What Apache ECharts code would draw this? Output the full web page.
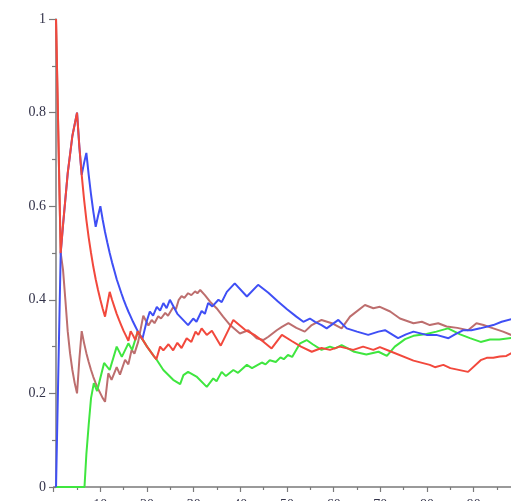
<!DOCTYPE html>
<html>
<head>
<meta charset="utf-8">
<script src="https://cdn.jsdelivr.net/npm/echarts@6.0.0/dist/echarts.min.js"></script>
<style>
  html, body { margin: 0; padding: 0; background: #ffffff; }
  #chart { width: 511px; height: 501px; }
</style>
</head>
<body>
<div id="chart"></div>
<script>
// Running proportions of four walks, as [x, proportion] vertices.
const redPts = [
  [0.5,1],[1.5,0.5],[2,0.56],[3,0.67],[4,0.75],[5,0.8],[5.5,0.727],[6,0.667],[6.5,0.615],[7,0.571],
  [7.5,0.533],[8,0.5],[8.5,0.47],[9,0.444],[9.5,0.421],[10,0.4],[10.5,0.381],[11,0.364],[11.5,0.391],
  [12,0.417],[12.5,0.4],[13,0.385],[13.5,0.37],[14,0.357],[14.5,0.345],[15,0.333],[15.5,0.323],
  [16,0.3125],[16.5,0.333],[17,0.324],[17.5,0.314],[18,0.333],[18.5,0.324],[19,0.316],[19.5,0.308],
  [20,0.3],[20.5,0.293],[21,0.286],[21.5,0.279],[22,0.273],[22.8,0.3],[23.5,0.292],[24.6,0.305],
  [25.6,0.292],[26.5,0.308],[27.4,0.297],[28.5,0.318],[29.5,0.31],[30.4,0.332],[31,0.325],[31.7,0.339],
  [32.8,0.325],[33.9,0.334],[35.8,0.302],[38.5,0.357],[41,0.336],[43,0.325],[45,0.31],[46.7,0.296],
  [48.9,0.325],[51,0.312],[53,0.3],[55.3,0.289],[57.4,0.297],[59.2,0.293],[61.3,0.3],[64.2,0.293],
  [66.3,0.3],[68.5,0.293],[69.9,0.299],[72.1,0.29],[77.1,0.27],[80.6,0.261],[81.7,0.256],[83.5,0.261],
  [85,0.254],[88.8,0.246],[91.5,0.271],[92.8,0.276],[94.2,0.276],[95.6,0.279],[97,0.28],[98.5,0.288]
];

const bluePts = [
  [0.5,0],[1.5,0.5],[2,0.56],[3,0.67],[4,0.75],[5,0.8],[5.5,0.727],[6,0.667],[6.5,0.692],[7,0.714],
  [7.5,0.667],[8,0.625],[8.5,0.588],[9,0.556],[9.5,0.579],[10,0.6],[10.5,0.571],[11,0.545],[11.5,0.522],
  [12,0.5],[12.5,0.48],[13,0.462],[13.5,0.444],[14,0.429],[14.5,0.414],[15,0.4],[15.5,0.387],[16,0.375],
  [16.5,0.364],[17,0.353],[17.5,0.343],[18,0.333],[18.5,0.324],[19,0.316],[19.9,0.353],[20.6,0.375],
  [21.3,0.366],[22.1,0.385],[22.8,0.377],[23.5,0.393],[24.2,0.382],[24.9,0.4],[26.5,0.37],[28.8,0.346],
  [29.9,0.36],[30.6,0.353],[31.7,0.376],[32.4,0.37],[33.1,0.393],[34,0.386],[35.3,0.4],[36,0.395],
  [37.1,0.417],[38.8,0.435],[41.4,0.407],[43.8,0.432],[46,0.415],[48,0.397],[50,0.38],[52,0.364],
  [53.5,0.353],[54.9,0.36],[56,0.353],[57.4,0.346],[58.5,0.339],[61,0.357],[62.8,0.339],[65,0.332],
  [67.4,0.325],[69.6,0.332],[71,0.335],[73.8,0.318],[75.5,0.326],[77.1,0.332],[79.9,0.325],[82,0.325],
  [84.6,0.318],[86,0.326],[87.8,0.335],[89.5,0.335],[91.4,0.339],[94.2,0.346],[96,0.353],[98.5,0.36]
];

const greenPts = [
  [0.5,0],[6.6,0],[7,0.07],[7.5,0.133],[8,0.19],[8.6,0.222],[9.3,0.205],[10.8,0.265],[12,0.25],
  [13.5,0.3],[14.6,0.278],[16,0.307],[16.8,0.293],[17.8,0.325],[18,0.333],[18.5,0.324],[19,0.316],
  [19.5,0.308],[20,0.3],[20.5,0.293],[21,0.286],[21.5,0.279],[22,0.273],[23.5,0.25],[25.6,0.229],
  [27.1,0.22],[27.8,0.239],[28.8,0.246],[30.6,0.236],[32.8,0.214],[34.2,0.232],[34.9,0.226],[36,0.246],
  [36.9,0.237],[38.5,0.25],[39.5,0.244],[41.4,0.261],[42.5,0.254],[44.6,0.266],[45.4,0.262],[46.3,0.271],
  [47.6,0.267],[48.6,0.277],[49.3,0.273],[50.2,0.282],[51.1,0.278],[52.8,0.307],[54.2,0.314],[55.5,0.305],
  [57.4,0.293],[59.2,0.3],[60.3,0.296],[61.7,0.303],[64.4,0.289],[67,0.283],[69.6,0.289],[71.4,0.28],
  [73.1,0.3],[75.3,0.316],[77.1,0.323],[79.9,0.327],[82,0.332],[84.5,0.339],[87.1,0.326],[89.2,0.318],
  [91.5,0.31],[93.5,0.315],[95.5,0.315],[98.5,0.319]
];

const brownPts = [
  [0.5,1],[1.5,0.5],[2,0.464],[2.5,0.4],[3,0.333],[3.5,0.286],[4,0.25],[4.5,0.222],[5,0.2],[5.5,0.273],
  [6,0.333],[6.5,0.308],[7,0.286],[7.5,0.267],[8,0.25],[8.5,0.235],[9,0.222],[9.5,0.21],[10,0.2],
  [10.5,0.19],[11,0.182],[11.7,0.243],[12.4,0.229],[13.5,0.256],[14.2,0.24],[15.3,0.272],[16,0.262],
  [16.7,0.293],[17.3,0.285],[18.1,0.31],[19.2,0.366],[20.3,0.345],[21,0.357],[21.6,0.35],[22.4,0.365],
  [23,0.36],[23.9,0.372],[24.5,0.366],[25.6,0.384],[26.2,0.38],[26.8,0.4],[27.4,0.408],[28,0.404],
  [28.8,0.414],[29.5,0.41],[30.3,0.418],[30.8,0.414],[31.4,0.421],[32.4,0.41],[33.5,0.396],[34.9,0.382],
  [36.3,0.364],[37.8,0.346],[39.9,0.328],[41.7,0.335],[43.5,0.318],[44.9,0.314],[46,0.321],[47.8,0.335],
  [48.9,0.342],[50.3,0.35],[52,0.34],[53.8,0.332],[55.3,0.346],[57.4,0.357],[59.6,0.35],[61.7,0.339],
  [63.5,0.364],[66.7,0.389],[68.5,0.382],[69.9,0.385],[72.1,0.375],[74.2,0.36],[77.1,0.35],[78.9,0.353],
  [80.6,0.346],[82.4,0.35],[84.2,0.343],[86.5,0.34],[88.8,0.335],[90.6,0.35],[92.1,0.346],[94.2,0.339],
  [96.3,0.332],[98.5,0.323]
];

const yTickValues = [0, 0.2, 0.4, 0.6, 0.8, 1];

const AXIS_COLOR = '#7a7a7a';
const TEXT_COLOR = '#33334a';
const FONT = '"Liberation Serif", "DejaVu Serif", serif';

const chart = echarts.init(document.getElementById('chart'), null, { renderer: 'canvas' });

function lineSeries(name, pts, color, z) {
  return {
    name: name,
    type: 'line',
    data: pts,
    showSymbol: false,
    symbol: 'none',
    smooth: false,
    z: z,
    lineStyle: { color: color, width: 2 },
    emphasis: { disabled: true }
  };
}

chart.setOption({
  animation: false,
  backgroundColor: '#ffffff',
  grid: {
    left: 53.7,
    top: 19,
    width: 513.3,
    height: 468,
    outerBoundsMode: 'none'
  },
  xAxis: {
    type: 'value',
    min: 0,
    max: 110,
    interval: 10,
    axisLine: { show: true, onZero: false, lineStyle: { color: AXIS_COLOR, width: 1.5 } },
    axisTick: { show: true, length: 5, inside: false, lineStyle: { color: AXIS_COLOR, width: 1.2 } },
    minorTick: { show: true, splitNumber: 2, length: 3, lineStyle: { color: AXIS_COLOR, width: 1.2 } },
    splitLine: { show: false },
    axisLabel: {
      showMinLabel: false,
      margin: 11,
      color: TEXT_COLOR,
      fontFamily: FONT,
      fontSize: 14
    }
  },
  yAxis: {
    type: 'value',
    min: 0,
    max: 1,
    interval: 0.2,
    offset: -2.3,
    axisLine: { show: true, onZero: false, lineStyle: { color: AXIS_COLOR, width: 1.5 } },
    axisTick: { show: true, length: 7, lineStyle: { color: AXIS_COLOR, width: 1.2 } },
    minorTick: { show: true, splitNumber: 2, length: 4, lineStyle: { color: AXIS_COLOR, width: 1.2 } },
    splitLine: { show: false },
    axisLabel: {
      margin: 10,
      color: TEXT_COLOR,
      fontFamily: FONT,
      fontSize: 14,
      formatter: function (v) {
        const t = yTickValues.find(function (tv) { return Math.abs(tv - v) < 1e-9; });
        return t === undefined ? '' : String(t);
      }
    }
  },
  series: [
    lineSeries('brown', brownPts, '#bd6e6e', 2),
    lineSeries('green', greenPts, '#3fe63f', 3),
    lineSeries('blue', bluePts, '#3f4ff5', 4),
    lineSeries('red', redPts, '#f2483c', 5)
  ]
});
</script>
</body>
</html>
